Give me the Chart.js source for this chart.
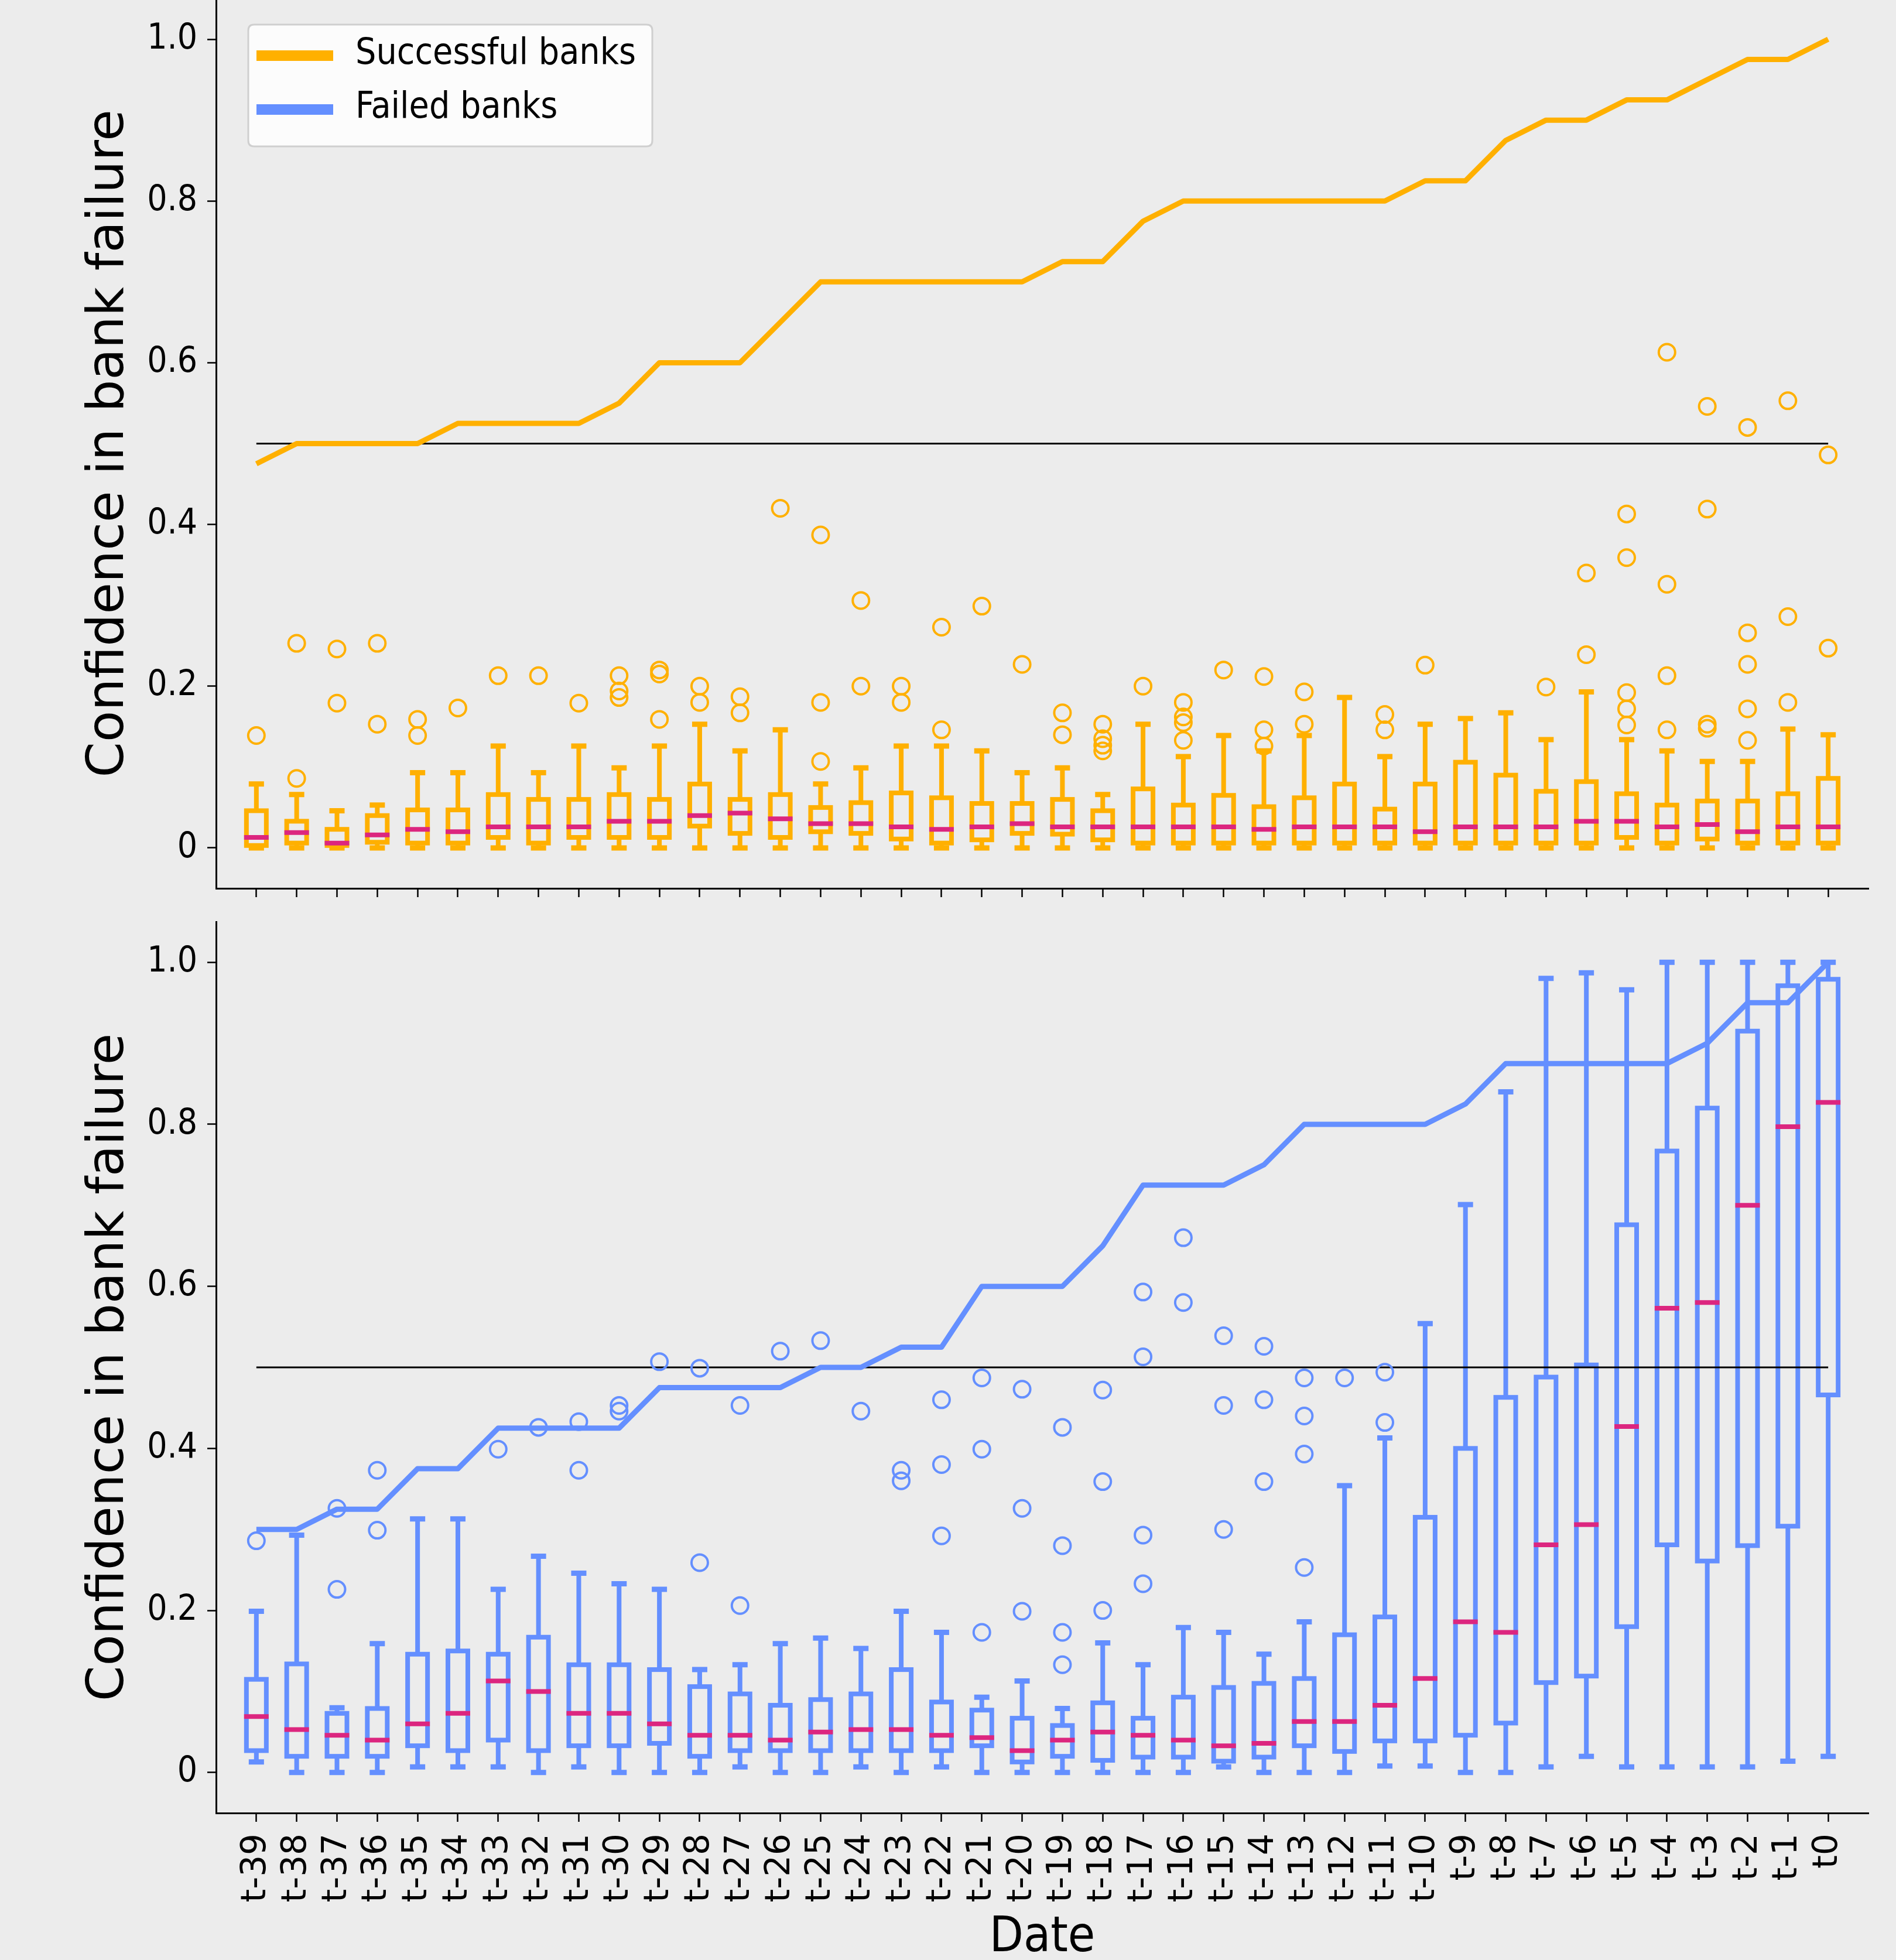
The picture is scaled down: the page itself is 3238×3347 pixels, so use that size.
<!DOCTYPE html>
<html>
<head>
<meta charset="utf-8">
<script src="https://cdn.jsdelivr.net/npm/chart.js@4.4.1/dist/chart.umd.min.js"></script>
<style>
html,body{margin:0;padding:0;background:#ececec;width:3238px;height:3347px;overflow:hidden;position:relative;}
#wrapTop{position:absolute;left:0;top:-20px;width:3238px;height:1620px;}
#wrapBot{position:absolute;left:0;top:1540px;width:3238px;height:1807px;}
canvas{display:block;}
</style>
</head>
<body>
<div id="wrapTop"><canvas id="cTop" width="3238" height="1620"></canvas></div>
<div id="wrapBot"><canvas id="cBot" width="3238" height="1807"></canvas></div>
<script>
// ---------------- DATA ----------------
const dates = ['t-39','t-38','t-37','t-36','t-35','t-34','t-33','t-32','t-31','t-30',
               't-29','t-28','t-27','t-26','t-25','t-24','t-23','t-22','t-21','t-20',
               't-19','t-18','t-17','t-16','t-15','t-14','t-13','t-12','t-11','t-10',
               't-9','t-8','t-7','t-6','t-5','t-4','t-3','t-2','t-1','t0'];
const yTickValues = [0, 0.2, 0.4, 0.6, 0.8, 1.0];
const yTickLabels = ['0', '0.2', '0.4', '0.6', '0.8', '1.0'];
const seriesNames = ['Successful banks', 'Failed banks'];
const threshold = 0.5;

// Successful banks (top panel)
const succLine = [0.475,0.5,0.5,0.5,0.5,0.525,0.525,0.525,0.525,0.55,
                  0.6,0.6,0.6,0.65,0.7,0.7,0.7,0.7,0.7,0.7,
                  0.725,0.725,0.775,0.8,0.8,0.8,0.8,0.8,0.8,0.825,
                  0.825,0.875,0.9,0.9,0.925,0.925,0.95,0.975,0.975,1.0];
const succLo  = [0,0,0,0,0,0,0,0,0,0, 0,0,0,0,0,0,0,0,0,0, 0,0,0,0,0,0,0,0,0,0, 0,0,0,0,0,0,0,0,0,0];
const succQ1  = [0.003,0.006,0.003,0.007,0.006,0.006,0.013,0.006,0.013,0.013,
                 0.013,0.027,0.018,0.013,0.020,0.018,0.011,0.006,0.010,0.018,
                 0.017,0.010,0.006,0.006,0.006,0.006,0.006,0.006,0.006,0.006,
                 0.006,0.006,0.006,0.006,0.013,0.006,0.011,0.006,0.006,0.006];
const succMed = [0.013,0.019,0.006,0.016,0.023,0.020,0.026,0.026,0.026,0.033,
                 0.033,0.040,0.043,0.036,0.030,0.030,0.026,0.023,0.026,0.030,
                 0.026,0.026,0.026,0.026,0.026,0.023,0.026,0.026,0.026,0.020,
                 0.026,0.026,0.026,0.033,0.033,0.026,0.029,0.020,0.026,0.026];
const succQ3  = [0.046,0.033,0.023,0.040,0.047,0.047,0.066,0.060,0.060,0.066,
                 0.060,0.079,0.060,0.066,0.050,0.056,0.068,0.062,0.055,0.055,
                 0.060,0.046,0.073,0.053,0.065,0.051,0.062,0.079,0.048,0.079,
                 0.106,0.090,0.070,0.082,0.067,0.053,0.058,0.058,0.067,0.086];
const succHi  = [0.079,0.066,0.046,0.053,0.093,0.093,0.126,0.093,0.126,0.099,
                 0.126,0.153,0.120,0.146,0.079,0.099,0.126,0.126,0.120,0.093,
                 0.099,0.066,0.153,0.113,0.139,0.120,0.139,0.186,0.113,0.153,
                 0.160,0.167,0.134,0.193,0.134,0.120,0.107,0.107,0.147,0.140];
const succOutliers = [
  [0.139],[0.086,0.253],[0.179,0.246],[0.153,0.253],[0.139,0.159],
  [0.173],[0.213],[0.213],[0.179],[0.186,0.194,0.213],
  [0.159,0.215,0.220],[0.180,0.200],[0.167,0.187],[0.420],[0.107,0.180,0.387],
  [0.200,0.306],[0.180,0.200],[0.146,0.273],[0.299],[0.227],
  [0.140,0.167],[0.120,0.127,0.135,0.153],[0.200],[0.133,0.155,0.162,0.180],[0.220],
  [0.126,0.146,0.212],[0.153,0.193],[],[0.146,0.165],[0.226],
  [],[],[0.199],[0.239,0.340],[0.152,0.172,0.192,0.359,0.413],
  [0.146,0.213,0.326,0.613],[0.148,0.153,0.419,0.546],[0.133,0.172,0.227,0.266,0.520],[0.180,0.286,0.553],[0.247,0.486]
];

// Failed banks (bottom panel)
const failLine = [0.3,0.3,0.325,0.325,0.375,0.375,0.425,0.425,0.425,0.425,
                  0.475,0.475,0.475,0.475,0.5,0.5,0.525,0.525,0.6,0.6,
                  0.6,0.65,0.725,0.725,0.725,0.75,0.8,0.8,0.8,0.8,
                  0.825,0.875,0.875,0.875,0.875,0.875,0.9,0.95,0.95,1.0];
const failLo  = [0.013,0,0,0,0.007,0.007,0.007,0,0.007,0,
                 0,0,0.007,0,0,0.007,0,0.007,0,0,
                 0,0,0,0,0.007,0,0,0,0.008,0.008,
                 0,0,0.007,0.020,0.007,0.007,0.007,0.007,0.014,0.020];
const failQ1  = [0.027,0.020,0.020,0.020,0.033,0.027,0.040,0.027,0.033,0.033,
                 0.036,0.020,0.027,0.027,0.027,0.027,0.027,0.027,0.033,0.013,
                 0.020,0.015,0.019,0.019,0.014,0.019,0.033,0.026,0.039,0.039,
                 0.046,0.061,0.111,0.119,0.180,0.281,0.261,0.280,0.304,0.466];
const failMed = [0.069,0.053,0.046,0.040,0.060,0.073,0.113,0.100,0.073,0.073,
                 0.060,0.046,0.046,0.040,0.050,0.053,0.053,0.046,0.043,0.027,
                 0.040,0.050,0.046,0.040,0.033,0.036,0.063,0.063,0.083,0.116,
                 0.186,0.173,0.281,0.306,0.427,0.573,0.580,0.700,0.797,0.827];
const failQ3  = [0.115,0.134,0.073,0.079,0.146,0.150,0.146,0.167,0.133,0.133,
                 0.127,0.106,0.097,0.083,0.090,0.097,0.127,0.087,0.077,0.067,
                 0.058,0.086,0.067,0.093,0.105,0.110,0.116,0.170,0.192,0.315,
                 0.400,0.463,0.488,0.503,0.676,0.767,0.820,0.915,0.971,0.979];
const failHi  = [0.199,0.293,0.080,0.159,0.313,0.313,0.226,0.267,0.246,0.233,
                 0.226,0.127,0.133,0.159,0.166,0.153,0.199,0.173,0.093,0.113,
                 0.079,0.160,0.133,0.179,0.173,0.146,0.186,0.354,0.413,0.554,
                 0.701,0.840,0.980,0.987,0.966,1.0,1.0,1.0,1.0,1.0];
const failOutliers = [
  [0.286],[],[0.226,0.326],[0.299,0.373],[],
  [],[0.399],[0.426],[0.373,0.433],[0.446,0.453],
  [0.507],[0.259,0.499],[0.206,0.453],[0.520],[0.533],
  [0.446],[0.360,0.373],[0.292,0.380,0.460],[0.173,0.399,0.487],[0.199,0.326,0.473],
  [0.133,0.173,0.280,0.426],[0.200,0.359,0.472],[0.233,0.293,0.513,0.593],[0.580,0.660],[0.300,0.453,0.539],
  [0.359,0.460,0.526],[0.253,0.393,0.440,0.487],[0.487],[0.432,0.494],[],
  [],[],[],[],[],
  [],[],[],[],[]
];

// ---------------- STYLE ----------------
const ORANGE = '#FFB000';
const BLUE = '#648FFF';
const MEDIAN = '#DC267F';
const COND = "'DejaVu Sans Condensed', 'DejaVu Sans', sans-serif";
const NORMAL = "'DejaVu Sans', sans-serif";
const xLabels = [''].concat(dates, ['']);

function boxPlugin(id, st, color) {
  return {
    id: id,
    beforeDatasetsDraw(chart) {
      const ctx = chart.ctx, x = chart.scales.x, y = chart.scales.y;
      const half = 17, cap = 13;
      ctx.save();
      ctx.lineCap = 'butt';
      ctx.lineJoin = 'miter';
      for (let i = 0; i < dates.length; i++) {
        const cx = x.getPixelForValue(xLabels.indexOf(dates[i]));
        const pLo = y.getPixelForValue(st.lo[i]);
        const pQ1 = y.getPixelForValue(st.q1[i]);
        const pMed = y.getPixelForValue(st.med[i]);
        const pQ3 = y.getPixelForValue(st.q3[i]);
        const pHi = y.getPixelForValue(st.hi[i]);
        ctx.strokeStyle = color;
        ctx.lineWidth = 8;
        ctx.beginPath();
        ctx.moveTo(cx, pQ3); ctx.lineTo(cx, pHi);
        ctx.moveTo(cx, pQ1); ctx.lineTo(cx, pLo);
        ctx.stroke();
        ctx.lineWidth = 9;
        ctx.beginPath();
        ctx.moveTo(cx - cap, pHi); ctx.lineTo(cx + cap, pHi);
        ctx.moveTo(cx - cap, pLo); ctx.lineTo(cx + cap, pLo);
        ctx.stroke();
        ctx.lineWidth = 8;
        ctx.strokeRect(cx - half, pQ3, 2 * half, pQ1 - pQ3);
        ctx.strokeStyle = MEDIAN;
        ctx.beginPath();
        ctx.moveTo(cx - half - 4, pMed); ctx.lineTo(cx + half + 4, pMed);
        ctx.stroke();
      }
      ctx.restore();
    }
  };
}

const legendPlugin = {
  id: 'mplLegend',
  afterDraw(chart) {
    const ctx = chart.ctx, a = chart.chartArea;
    const bx = a.left + 55, by = a.top + 44, bw = 690, bh = 208, r = 10;
    ctx.save();
    ctx.beginPath();
    ctx.moveTo(bx + r, by);
    ctx.lineTo(bx + bw - r, by); ctx.quadraticCurveTo(bx + bw, by, bx + bw, by + r);
    ctx.lineTo(bx + bw, by + bh - r); ctx.quadraticCurveTo(bx + bw, by + bh, bx + bw - r, by + bh);
    ctx.lineTo(bx + r, by + bh); ctx.quadraticCurveTo(bx, by + bh, bx, by + bh - r);
    ctx.lineTo(bx, by + r); ctx.quadraticCurveTo(bx, by, bx + r, by);
    ctx.closePath();
    ctx.fillStyle = 'rgba(255,255,255,0.82)';
    ctx.fill();
    ctx.strokeStyle = '#cfcfcf';
    ctx.lineWidth = 3;
    ctx.stroke();
    const cols = [ORANGE, BLUE];
    for (let k = 0; k < seriesNames.length; k++) {
      const yc = by + 53 + k * 92;
      ctx.strokeStyle = cols[k];
      ctx.lineWidth = 18;
      ctx.beginPath();
      ctx.moveTo(bx + 14, yc); ctx.lineTo(bx + 145, yc);
      ctx.stroke();
      ctx.fillStyle = '#000';
      ctx.font = "62px " + COND;
      ctx.textBaseline = 'middle';
      ctx.textAlign = 'left';
      ctx.fillText(seriesNames[k], bx + 183, yc - 2);
    }
    ctx.restore();
  }
};

function buildChart(canvasId, opt) {
  const lineData = dates.map((d, i) => ({x: d, y: opt.line[i]}));
  const outData = [];
  dates.forEach((d, i) => opt.outliers[i].forEach(v => outData.push({x: d, y: v})));
  const thrData = [{x: dates[0], y: threshold}, {x: dates[dates.length - 1], y: threshold}];
  const plugins = [boxPlugin('box_' + canvasId, opt.stats, opt.color)];
  if (opt.legend) plugins.push(legendPlugin);
  return new Chart(document.getElementById(canvasId), {
    type: 'line',
    data: {
      labels: xLabels,
      datasets: [
        {label: opt.name, data: lineData, borderColor: opt.color, borderWidth: 9,
         pointRadius: 0, tension: 0, fill: false, borderJoinStyle: 'round', borderCapStyle: 'butt'},
        {label: opt.name + ' outliers', data: outData, showLine: false,
         pointStyle: 'circle', pointRadius: 14, pointBorderWidth: 4,
         pointBackgroundColor: 'rgba(0,0,0,0)', pointBorderColor: opt.color},
        {label: 'threshold', data: thrData, borderColor: '#000', borderWidth: 3,
         pointRadius: 0, fill: false}
      ]
    },
    options: {
      responsive: false,
      animation: false,
      events: [],
      layout: {padding: {left: 0, right: 47, top: opt.padTop, bottom: 0}},
      plugins: {legend: {display: false}, tooltip: {enabled: false}},
      scales: {
        x: {
          type: 'category',
          offset: false,
          grid: {display: true, drawOnChartArea: false, drawTicks: true, tickLength: 15, tickWidth: 2.5,
                 tickColor: (c) => (c.index === 0 || c.index === xLabels.length - 1) ? 'rgba(0,0,0,0)' : '#000'},
          border: {display: true, color: '#000', width: 3},
          ticks: {display: opt.xLabels, autoSkip: false, maxRotation: 90, minRotation: 90, padding: 20,
                  color: '#000', font: {family: NORMAL, size: 58}},
          title: {display: opt.xLabels, text: 'Date', color: '#000',
                  font: {family: COND, size: 84, lineHeight: 0.8}, padding: {top: 0, bottom: 3}},
          afterFit: (s) => { s.height = opt.xHeight; s.paddingLeft = 0; s.paddingRight = 0; s.paddingTop = 0; s.paddingBottom = 0; }
        },
        y: {
          min: -0.05, max: 1.05,
          afterBuildTicks: (s) => { s.ticks = yTickValues.map(v => ({value: v})); },
          grid: {display: true, drawOnChartArea: false, drawTicks: true, tickLength: 15, tickWidth: 2.5, tickColor: '#000'},
          border: {display: true, color: '#000', width: 3},
          ticks: {padding: 17, color: '#000', font: {family: COND, size: 60},
                  callback: (v, i) => yTickLabels[i]},
          title: {display: true, text: 'Confidence in bank failure', color: '#000',
                  font: {family: NORMAL, size: 87, lineHeight: 1}, padding: {top: 144, bottom: 0}},
          afterFit: (s) => { s.width = 369; s.paddingLeft = 0; s.paddingRight = 0; s.paddingTop = 0; s.paddingBottom = 0; }
        }
      }
    },
    plugins: plugins
  });
}

buildChart('cTop', {
  name: seriesNames[0], color: ORANGE, line: succLine, outliers: succOutliers,
  stats: {lo: succLo, q1: succQ1, med: succMed, q3: succQ3, hi: succHi},
  legend: true, xLabels: false, xHeight: 83, padTop: 15
});
buildChart('cBot', {
  name: seriesNames[1], color: BLUE, line: failLine, outliers: failOutliers,
  stats: {lo: failLo, q1: failQ1, med: failMed, q3: failQ3, hi: failHi},
  legend: false, xLabels: true, xHeight: 251, padTop: 34
});
</script>
</body>
</html>
